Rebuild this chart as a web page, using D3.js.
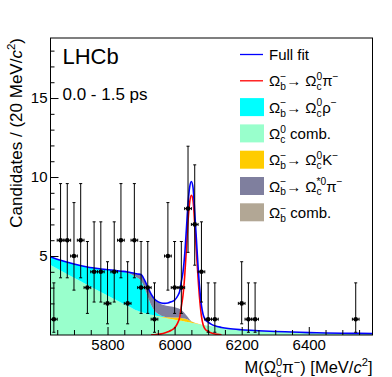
<!DOCTYPE html>
<html>
<head>
<meta charset="utf-8">
<script src="https://cdn.jsdelivr.net/npm/d3@7"></script>
<style>
  body { margin: 0; background: #fff; }
  svg { display: block; }
  text { font-family: "Liberation Sans", Arial, sans-serif; fill: #000; white-space: pre; }
</style>
</head>
<body>
<svg id="chart" width="392" height="377"></svg>
<script>
// data points, 20 MeV bins (empty bins are not drawn)
const binMass = [5640, 5660, 5680, 5700, 5720, 5740, 5760, 5780, 5800, 5820, 5840, 5860, 5880, 5900, 5920, 5940,
    5980, 6000, 6020, 6040, 6060, 6080, 6100, 6120, 6200, 6220, 6240, 6540];
const binCount = [1, 6, 6, 5, 6, 3, 4, 4, 2, 4, 6, 2, 6, 3, 3, 1,
    5, 3, 3, 8, 7, 4, 1, 1, 2, 1, 1, 1];

// Poisson 68% interval edges, indexed by count
const poissonLow = [0, 0.173, 0.708, 1.367, 2.086, 2.840, 3.620, 4.419, 5.232];
const poissonHigh = [1.841, 3.300, 4.638, 5.918, 7.163, 8.382, 9.584, 10.77, 11.95];

// fit components, read along the mass axis
const fitMass = [5630, 5660, 5700, 5740, 5780, 5820,
    5840, 5860, 5880, 5890, 5900,
    5910, 5920, 5930, 5940, 5950,
    5960, 5970, 5980, 5990, 6000,
    6010, 6015, 6020, 6025, 6030,
    6035, 6040, 6045, 6050, 6055,
    6060, 6065, 6070, 6075, 6080,
    6085, 6090, 6100, 6110, 6120,
    6140, 6160, 6200, 6250, 6300,
    6350, 6400, 6450, 6500, 6550,
    6590];
const omegaCComb = [4.43, 4.08, 3.62, 3.17, 2.72, 2.28,
    2.06, 1.85, 1.62, 1.53, 1.45,
    1.39, 1.33, 1.28, 1.23, 1.18,
    1.13, 1.09, 1.05, 1.01, 0.97,
    0.94, 0.92, 0.90, 0.88, 0.86,
    0.84, 0.82, 0.80, 0.78, 0.76,
    0.74, 0.72, 0.70, 0.68, 0.66,
    0.64, 0.62, 0.59, 0.55, 0.52,
    0.46, 0.41, 0.33, 0.27, 0.22,
    0.19, 0.15, 0.13, 0.11, 0.10,
    0.09];
const omegaBComb = [0, 0, 0, 0, 0, 0,
    0, 0, 0, 0, 0,
    0, 0, 0, 0, 0,
    0, 0, 0, 0, 0,
    0, 0, 0, 0, 0,
    0, 0, 0, 0, 0,
    0, 0, 0, 0, 0,
    0, 0, 0, 0, 0,
    0, 0, 0, 0, 0,
    0, 0, 0, 0, 0,
    0];
const omegaCK = [0, 0, 0, 0, 0, 0,
    0, 0, 0, 0, 0,
    0, 0, 0, 0.01, 0.02,
    0.03, 0.05, 0.07, 0.10, 0.13,
    0.16, 0.17, 0.18, 0.18, 0.18,
    0.17, 0.15, 0.11, 0.07, 0.05,
    0.04, 0.03, 0.02, 0.02, 0.01,
    0.01, 0, 0, 0, 0,
    0, 0, 0, 0, 0,
    0, 0, 0, 0, 0,
    0];
const omegaCRho = [0.53, 0.65, 0.87, 1.13, 1.46, 1.81,
    1.96, 2.08, 2.12, 2.08, 2.00,
    1.60, 1.10, 0.62, 0.30, 0.14,
    0.06, 0.02, 0, 0, 0,
    0, 0, 0, 0, 0,
    0, 0, 0, 0, 0,
    0, 0, 0, 0, 0,
    0, 0, 0, 0, 0,
    0, 0, 0, 0, 0,
    0, 0, 0, 0, 0,
    0];
const omegaCStarPi = [0, 0, 0, 0, 0, 0,
    0.02, 0.06, 0.16, 0.25, 0.38,
    0.50, 0.60, 0.68, 0.72, 0.73,
    0.73, 0.72, 0.71, 0.69, 0.66,
    0.60, 0.56, 0.50, 0.42, 0.33,
    0.24, 0.15, 0.07, 0.02, 0.01,
    0, 0, 0, 0, 0,
    0, 0, 0, 0, 0,
    0, 0, 0, 0, 0,
    0, 0, 0, 0, 0,
    0];
const signal = [0, 0, 0, 0, 0, 0,
    0, 0, 0, 0, 0,
    0, 0, 0.01, 0.02, 0.04,
    0.07, 0.12, 0.20, 0.30, 0.45,
    0.80, 1.10, 1.80, 2.50, 3.70,
    5.40, 7.20, 8.40, 8.85, 8.50,
    7.00, 5.30, 3.60, 2.20, 1.20,
    0.65, 0.40, 0.22, 0.12, 0.06,
    0.02, 0, 0, 0, 0,
    0, 0, 0, 0, 0,
    0];

const xTicks = [5800, 6000, 6200, 6400];
const yTicks = [5, 10, 15];

const legendKeys = ["full", "signal", "rho", "ccomb", "k", "cstar", "bcomb"];

const colors = {
    full: "#0000ff", signal: "#ff0000", rho: "#00ffff", ccomb: "#99ffcc",
    k: "#ffcc00", cstar: "#7f7f9e", bcomb: "#b2a795"
};

const margin = { top: 38, right: 19.5, bottom: 42, left: 50.5 };
const width = 392, height = 377;
const innerWidth = width - margin.left - margin.right;
const innerHeight = height - margin.top - margin.bottom;

const svg = d3.select("#chart");
const g = svg.append("g").attr("transform", `translate(${margin.left},${margin.top})`);

const x = d3.scaleLinear().domain([5630, 6590]).range([0, innerWidth]);
const y = d3.scaleLinear().domain([0, 18.8]).range([innerHeight, 0]);

// label built from pieces with sub/superscripts, parts = [base, sup, sub, italic]
function texLabel(parent, parts, size) {
    const grp = parent.append("g");
    let cx = 0;
    parts.forEach(([base, sup, sub, ital]) => {
        if (base) {
            const t = grp.append("text").attr("x", cx).attr("font-size", size).text(base);
            if (ital) t.attr("font-style", "italic");
            cx += t.node().getComputedTextLength();
        }
        let w = 0;
        if (sup) {
            const t = grp.append("text").attr("x", cx).attr("y", -size * 0.42)
                .attr("font-size", size * 0.68).text(sup);
            w = t.node().getComputedTextLength();
        }
        if (sub) {
            const t = grp.append("text").attr("x", cx).attr("y", size * 0.26)
                .attr("font-size", size * 0.68).text(sub);
            w = Math.max(w, t.node().getComputedTextLength());
        }
        cx += w;
    });
    return { grp, width: cx };
}

// rows for the stack
const rows = fitMass.map((m, i) => ({
    mass: m,
    ccomb: omegaCComb[i], bcomb: omegaBComb[i], k: omegaCK[i],
    rho: omegaCRho[i], cstar: omegaCStarPi[i], signal: signal[i]
}));
rows.forEach(r => { r.total = r.ccomb + r.bcomb + r.k + r.rho + r.cstar + r.signal; });

const stackKeys = ["ccomb", "bcomb", "k", "rho", "cstar"];
const series = d3.stack().keys(stackKeys)(rows);

g.append("clipPath").attr("id", "plot-clip")
    .append("rect").attr("width", innerWidth).attr("height", innerHeight);

const plot = g.append("g").attr("clip-path", "url(#plot-clip)");

const area = d3.area()
    .x(d => x(d.data.mass))
    .y0(d => y(d[0]))
    .y1(d => y(d[1]))
    .curve(d3.curveMonotoneX);

plot.selectAll("path.band")
    .data(series)
    .enter()
    .append("path")
    .attr("class", "band")
    .attr("fill", d => colors[d.key])
    .attr("d", area);

// signal and full fit
plot.append("path")
    .datum(rows.filter(r => r.signal > 0))
    .attr("fill", "none")
    .attr("stroke", colors.signal)
    .attr("stroke-width", 1.6)
    .attr("d", d3.line().x(d => x(d.mass)).y(d => y(d.signal)).curve(d3.curveMonotoneX));

plot.append("path")
    .datum(rows)
    .attr("fill", "none")
    .attr("stroke", colors.full)
    .attr("stroke-width", 1.6)
    .attr("d", d3.line().x(d => x(d.mass)).y(d => y(d.total)).curve(d3.curveMonotoneX));

// data points
const pts = binMass.map((m, i) => ({ m, n: binCount[i] }));
const pg = plot.selectAll("g.pt").data(pts).enter().append("g").attr("class", "pt")
    .attr("stroke", "#000").attr("stroke-width", 1);

pg.append("line")
    .attr("x1", d => x(d.m)).attr("x2", d => x(d.m))
    .attr("y1", d => y(poissonLow[d.n])).attr("y2", d => y(poissonHigh[d.n]));
pg.append("line")
    .attr("x1", d => x(d.m) - 1.5).attr("x2", d => x(d.m) + 1.5)
    .attr("y1", d => y(poissonHigh[d.n])).attr("y2", d => y(poissonHigh[d.n]));
pg.append("line")
    .attr("x1", d => x(d.m) - 1.5).attr("x2", d => x(d.m) + 1.5)
    .attr("y1", d => y(poissonLow[d.n])).attr("y2", d => y(poissonLow[d.n]));
pg.append("line")
    .attr("x1", d => x(d.m - 10)).attr("x2", d => x(d.m + 10))
    .attr("y1", d => y(d.n)).attr("y2", d => y(d.n));
pg.append("line")
    .attr("x1", d => x(d.m - 10)).attr("x2", d => x(d.m - 10))
    .attr("y1", d => y(d.n) - 1.5).attr("y2", d => y(d.n) + 1.5);
pg.append("line")
    .attr("x1", d => x(d.m + 10)).attr("x2", d => x(d.m + 10))
    .attr("y1", d => y(d.n) - 1.5).attr("y2", d => y(d.n) + 1.5);
pg.append("circle")
    .attr("cx", d => x(d.m)).attr("cy", d => y(d.n))
    .attr("r", 2.3).attr("fill", "#000").attr("stroke", "none");

// axes, ticks pointing inwards
const xMinor = d3.range(5650, 6590, 50).filter(v => !xTicks.includes(v));
g.append("g")
    .attr("transform", `translate(0,${innerHeight})`)
    .call(d3.axisBottom(x).tickValues(xMinor).tickSize(-5))
    .call(a => a.select(".domain").remove())
    .call(a => a.selectAll("text").remove());
g.append("g")
    .attr("transform", `translate(0,${innerHeight})`)
    .call(d3.axisBottom(x).tickValues(xTicks).tickSize(-8).tickPadding(4).tickFormat(d3.format("d")))
    .call(a => a.select(".domain").remove())
    .selectAll("text")
    .style("font-size", "15px")
    .style("font-family", "'Liberation Sans', Arial, sans-serif");

const yMinor = d3.range(1, 19, 1).filter(v => !yTicks.includes(v));
g.append("g")
    .call(d3.axisLeft(y).tickValues(yMinor).tickSize(-4))
    .call(a => a.select(".domain").remove())
    .call(a => a.selectAll("text").remove());
g.append("g")
    .call(d3.axisLeft(y).tickValues(yTicks).tickSize(-8).tickPadding(3))
    .call(a => a.select(".domain").remove())
    .selectAll("text")
    .style("font-size", "15px")
    .style("font-family", "'Liberation Sans', Arial, sans-serif");

g.selectAll(".tick line").attr("stroke", "#000");

// frame
g.append("rect")
    .attr("width", innerWidth).attr("height", innerHeight)
    .attr("fill", "none").attr("stroke", "#000").attr("stroke-width", 1);

// axis titles, right-aligned to the axis ends
const xTitle = texLabel(svg, [["M(Ω", "0", "c"], ["π", "−"], [") [MeV/"], ["c", "2", null, true], ["]"]], 16.5);
xTitle.grp.attr("transform", `translate(${margin.left + innerWidth - xTitle.width},373)`);

const yTitle = texLabel(svg, [["Candidates / (20 MeV/"], ["c", "2", null, true], [")"]], 17);
yTitle.grp.attr("transform", `translate(22,${margin.top}) rotate(-90) translate(${-yTitle.width},0)`);

// labels inside
g.append("text").attr("x", 12).attr("y", 26).attr("font-size", 22).text("LHCb");
g.append("text").attr("x", 12).attr("y", 62).attr("font-size", 17).text("0.0 - 1.5 ps");

// legend
const legendParts = {
    full: [["Full fit"]],
    signal: [["Ω", "−", "b"], ["→ Ω", "0", "c"], ["π", "−"]],
    rho: [["Ω", "−", "b"], ["→ Ω", "0", "c"], ["ρ", "−"]],
    ccomb: [["Ω", "0", "c"], [" comb."]],
    k: [["Ω", "−", "b"], ["→ Ω", "0", "c"], ["K", "−"]],
    cstar: [["Ω", "−", "b"], ["→ Ω", "*0", "c"], ["π", "−"]],
    bcomb: [["Ω", "−", "b"], [" comb."]]
};
const legend = svg.append("g").attr("transform", "translate(240,54.5)");
legendKeys.forEach((key, i) => {
    const row = legend.append("g").attr("transform", `translate(0,${i * 26.3})`);
    if (key === "full" || key === "signal") {
        row.append("line").attr("x1", 0).attr("x2", 23).attr("y1", 0).attr("y2", 0)
            .attr("stroke", colors[key]).attr("stroke-width", 1.3);
    } else {
        row.append("rect").attr("x", 0).attr("y", -9).attr("width", 24).attr("height", 18)
            .attr("fill", colors[key]);
    }
    const lab = texLabel(row, legendParts[key], 15);
    lab.grp.attr("transform", "translate(29,5.5)");
});
</script>
</body>
</html>
